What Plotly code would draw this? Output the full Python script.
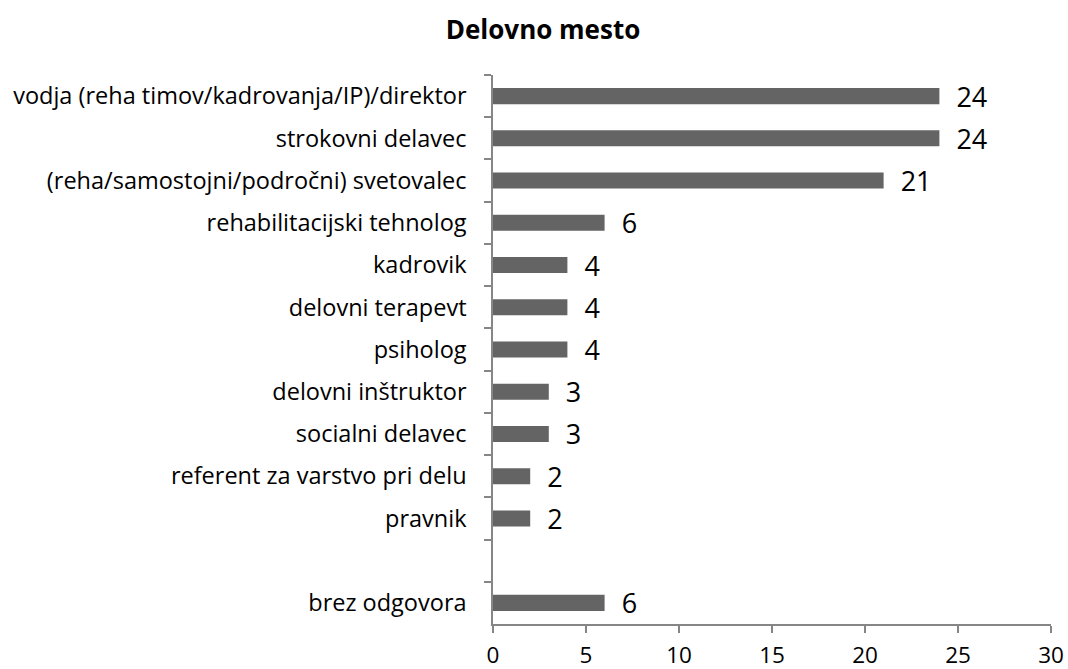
import plotly.graph_objects as go

categories = [
    "vodja (reha timov/kadrovanja/IP)/direktor",
    "strokovni delavec",
    "(reha/samostojni/področni) svetovalec",
    "rehabilitacijski tehnolog",
    "kadrovik",
    "delovni terapevt",
    "psiholog",
    "delovni inštruktor",
    "socialni delavec",
    "referent za varstvo pri delu",
    "pravnik",
    " ",
    "brez odgovora",
]
values = [24, 24, 21, 6, 4, 4, 4, 3, 3, 2, 2, None, 6]
labels = ["  " + str(v) if v is not None else "" for v in values]

fig = go.Figure()
fig.add_trace(go.Bar(
    x=values, y=categories, orientation="h",
    marker=dict(color="#646464", line=dict(width=0)),
    text=labels, textposition="outside", constraintext="none",
    textfont=dict(size=27, color="black"),
    cliponaxis=False,
))

fig.update_layout(
    width=1068, height=669,
    paper_bgcolor="white", plot_bgcolor="white",
    font=dict(family="Open Sans, sans-serif", size=23, color="black"),
    title=dict(text="<b>Delovno mesto</b>", x=543 / 1068, xref="container", xanchor="center",
               y=1 - 30 / 669, yanchor="middle", font=dict(size=26)),
    margin=dict(l=493, r=17, t=75, b=45, autoexpand=False),
    bargap=0.62,
    showlegend=False,
)
fig.update_xaxes(
    range=[0, 30], dtick=5, showgrid=False, zeroline=False, automargin=False,
    showline=True, linecolor="#868686", linewidth=1.5,
    ticks="outside", ticklen=7, tickcolor="#868686", tickwidth=1.5,
    ticklabelstandoff=3,
    tickfont=dict(size=22.5),
)
fig.update_yaxes(
    type="category", autorange="reversed", showgrid=False, automargin=False,
    showline=True, linecolor="#868686", linewidth=1.5,
    ticks="outside", tickson="boundaries", ticklen=7, tickcolor="#868686", tickwidth=1.5,
    ticklabelstandoff=20,
    tickfont=dict(size=23.5),
)

# drop the page's default body margin so the figure fills the window exactly
fig.write_html("out.html", config={"displayModeBar": False},
               post_script="document.body.style.margin='0';")
